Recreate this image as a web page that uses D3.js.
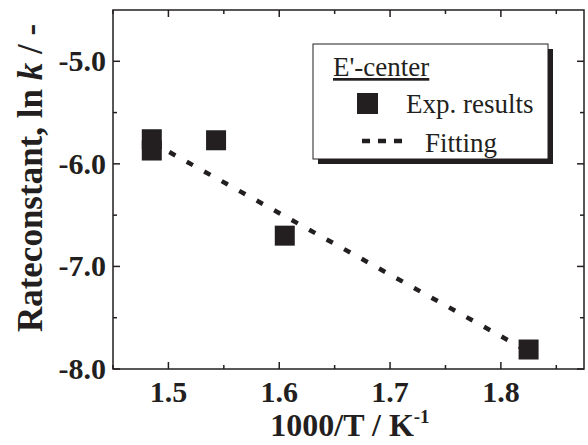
<!DOCTYPE html>
<html>
<head>
<meta charset="utf-8">
<script src="https://cdn.jsdelivr.net/npm/d3@7"></script>
<style>
  body { margin: 0; background: #fff; }
  text { font-family: "Liberation Serif", "Times New Roman", serif; }
</style>
</head>
<body>
<svg id="main-svg"></svg>
<script>
const svg = d3.select("#main-svg");

// DATA
const invT = [1.485, 1.485, 1.543, 1.605, 1.825];
const lnK = [-5.76, -5.87, -5.77, -6.70, -7.81];
const fitX = [1.485, 1.825];
const fitY = [-5.79, -7.83];
const xTicks = [1.5, 1.6, 1.7, 1.8];
const yTicks = [-5.0, -6.0, -7.0, -8.0];

// FIXED
CANVAS_WIDTH = 588
CANVAS_HEIGHT = 445
PLOT_LEFT = 113
PLOT_RIGHT = 584
PLOT_TOP = 10
PLOT_BOTTOM = 369
INK = "#231f20"

svg.attr("width", CANVAS_WIDTH).attr("height", CANVAS_HEIGHT);

const x = d3.scaleLinear().domain([1.45, 1.875]).range([PLOT_LEFT, PLOT_RIGHT]);
const y = d3.scaleLinear().domain([-8.0, -4.5]).range([PLOT_BOTTOM, PLOT_TOP]);

const xMinor = d3.range(1.45, 1.876, 0.05).filter(v => !xTicks.some(t => Math.abs(t - v) < 1e-6));
const yMinor = d3.range(-7.5, -4.5, 1.0);

// fitting line (drawn below squares)
svg.append("line")
  .attr("x1", x(fitX[0])).attr("y1", y(fitY[0]))
  .attr("x2", x(fitX[1])).attr("y2", y(fitY[1]))
  .attr("stroke", INK)
  .attr("stroke-width", 4.5)
  .attr("stroke-dasharray", "7,13");

// squares
const SQ = 20;
svg.selectAll("rect.pt")
  .data(invT)
  .enter()
  .append("rect")
  .attr("class", "pt")
  .attr("x", d => x(d) - SQ / 2)
  .attr("y", (d, i) => y(lnK[i]) - SQ / 2)
  .attr("width", SQ)
  .attr("height", SQ)
  .attr("fill", INK);

// axes, ticks inward on all four sides
const axisG = svg.append("g");
const tickLine = (x1, y1, x2, y2) => axisG.append("line")
  .attr("x1", x1).attr("y1", y1).attr("x2", x2).attr("y2", y2)
  .attr("stroke", INK).attr("stroke-width", 1.5);

xTicks.forEach(t => {
  tickLine(x(t), PLOT_BOTTOM, x(t), PLOT_BOTTOM - 7);
  tickLine(x(t), PLOT_TOP, x(t), PLOT_TOP + 7);
});
xMinor.forEach(t => {
  tickLine(x(t), PLOT_BOTTOM, x(t), PLOT_BOTTOM - 4);
  tickLine(x(t), PLOT_TOP, x(t), PLOT_TOP + 4);
});
yTicks.forEach(t => {
  tickLine(PLOT_LEFT, y(t), PLOT_LEFT + 7, y(t));
  tickLine(PLOT_RIGHT, y(t), PLOT_RIGHT - 7, y(t));
});
yMinor.forEach(t => {
  tickLine(PLOT_LEFT, y(t), PLOT_LEFT + 4, y(t));
  tickLine(PLOT_RIGHT, y(t), PLOT_RIGHT - 4, y(t));
});

axisG.append("rect")
  .attr("x", PLOT_LEFT).attr("y", PLOT_TOP)
  .attr("width", PLOT_RIGHT - PLOT_LEFT).attr("height", PLOT_BOTTOM - PLOT_TOP)
  .attr("fill", "none").attr("stroke", INK).attr("stroke-width", 1.5);

// tick labels
svg.selectAll("text.xt")
  .data(xTicks)
  .enter()
  .append("text")
  .attr("x", d => x(d))
  .attr("y", 402)
  .attr("text-anchor", "middle")
  .attr("font-size", 30)
  .attr("font-weight", "bold")
  .attr("fill", INK)
  .text(d => d.toFixed(1));

svg.selectAll("text.yt")
  .data(yTicks)
  .enter()
  .append("text")
  .attr("x", 106)
  .attr("y", d => y(d) + 10)
  .attr("text-anchor", "end")
  .attr("font-size", 30)
  .attr("font-weight", "bold")
  .attr("fill", INK)
  .text(d => d.toFixed(1));

// axis titles
const xTitle = svg.append("text")
  .attr("x", 350)
  .attr("y", 436)
  .attr("text-anchor", "middle")
  .attr("font-size", 32)
  .attr("font-weight", "bold")
  .attr("fill", INK);
xTitle.append("tspan").text("1000/T / K");
xTitle.append("tspan").attr("dy", -13).attr("font-size", 19).text("-1");

const yTitle = svg.append("text")
  .attr("transform", "translate(42,178) rotate(-90)")
  .attr("text-anchor", "middle")
  .attr("font-size", 35)
  .attr("font-weight", "bold")
  .attr("fill", INK);
yTitle.append("tspan").text("Rateconstant, ln ");
yTitle.append("tspan").attr("font-style", "italic").text("k");
yTitle.append("tspan").text(" / -");

// legend
const legend = svg.append("g");
legend.append("rect")
  .attr("x", 318).attr("y", 49).attr("width", 235).attr("height", 115)
  .attr("fill", INK);
legend.append("rect")
  .attr("x", 313).attr("y", 44).attr("width", 235).attr("height", 115)
  .attr("fill", "#fff").attr("stroke", INK).attr("stroke-width", 1);

legend.append("text")
  .attr("x", 333).attr("y", 76)
  .attr("font-size", 27)
  .attr("text-decoration", "underline")
  .attr("fill", INK)
  .text("E'-center");

legend.append("rect")
  .attr("x", 357).attr("y", 93).attr("width", 21).attr("height", 21)
  .attr("fill", INK);
legend.append("text")
  .attr("x", 406).attr("y", 113)
  .attr("font-size", 27)
  .attr("fill", INK)
  .text("Exp. results");

legend.append("line")
  .attr("x1", 362).attr("y1", 141).attr("x2", 402).attr("y2", 141)
  .attr("stroke", INK).attr("stroke-width", 4.5)
  .attr("stroke-dasharray", "8,8");
legend.append("text")
  .attr("x", 425).attr("y", 152)
  .attr("font-size", 27)
  .attr("fill", INK)
  .text("Fitting");
</script>
</body>
</html>
